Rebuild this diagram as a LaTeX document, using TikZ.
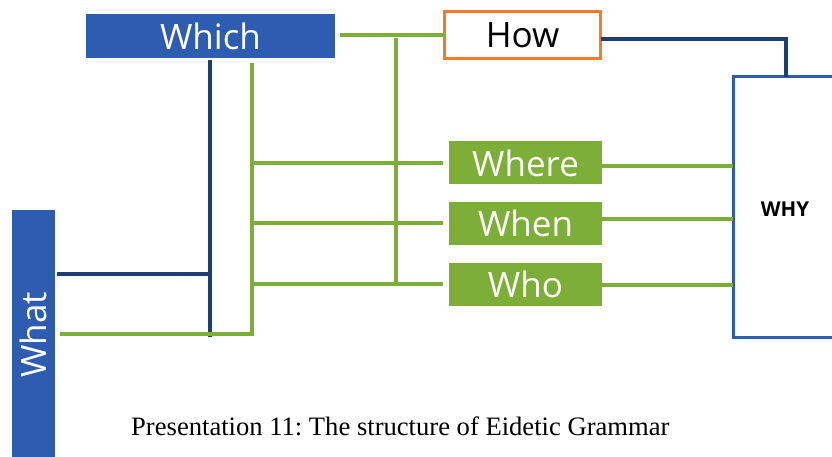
\documentclass[tikz,border=0pt]{standalone}
\usepackage{fontspec}
\setmainfont{Liberation Serif}
\newfontfamily\boxfont{Open Sans}
\definecolor{boxblue}{HTML}{2E5CB0}
\definecolor{navy}{HTML}{1F3E72}
\definecolor{lgreen}{HTML}{7DAE38}
\definecolor{orng}{HTML}{F47B2A}
\tikzset{
  lbl/.style={inner sep=0pt, outer sep=0pt, font=\boxfont\fontsize{35}{35}\selectfont, text=white},
  bluebox/.style={lbl, fill=boxblue},
  greenbox/.style={lbl, fill=lgreen, minimum width=153pt, minimum height=43pt},
  howbox/.style={lbl, draw=orng, line width=3.5pt, fill=white, text=black},
  whybox/.style={inner sep=0pt, outer sep=0pt, draw=boxblue, line width=3pt},
  navyline/.style={draw=navy, line width=4pt},
  greenline/.style={draw=lgreen, line width=4.5pt},
}
\begin{document}
\begin{tikzpicture}[x=1pt,y=-1pt]
\useasboundingbox (0,0) rectangle (832,457);
% WHY box (open to the right edge)
\node[whybox, minimum width=106pt, minimum height=260pt] (why) at (786,207) {};
\node[font=\boxfont\bfseries\fontsize{20.5}{20.5}\selectfont, inner sep=0pt] (whyt) at (785,209) {WHY};
% boxes
\node[bluebox, minimum width=249pt, minimum height=44pt] (which) at (210.5,36) {Which};
\node[howbox, minimum width=156pt, minimum height=47pt] (how) at (522.5,35) {How};
\node[greenbox] (where) at (525.5,163) {Where};
\node[greenbox] (when) at (525.5,223.5) {When};
\node[greenbox] (who) at (525.5,284.5) {Who};
\node[bluebox, minimum width=43pt, minimum height=250pt] (what) at (33,335) {\rotatebox{90}{What}};
% junction coordinates
\coordinate (n1) at (210,60);
\coordinate (n2) at (210,337);
\coordinate (w1) at (57,274);
\coordinate (g0) at (60,334);
\coordinate (g1) at (252,334);
\coordinate (g2) at (252,63);
\coordinate (t0) at (340,35);
\coordinate (v1) at (396,38);
\coordinate (v2) at (396,284);
\coordinate (h1) at (786,39);
% navy lines
\draw[navyline] (n1) -- (n2);
\draw[navyline] (w1) -- (w1 -| n1);
\draw[navyline] (how.east |- h1) -- (h1) -- (h1 |- why.north);
% green lines
\draw[greenline] (g0) -- (g1) -- (g2);
\draw[greenline] (t0) -- (how.west |- t0);
\draw[greenline] (v1) -- (v2);
\draw[greenline] (g2 |- 0,163) -- (443,163);
\draw[greenline] (g2 |- 0,223) -- (443,223);
\draw[greenline] (g2 |- 0,284) -- (443,284);
\draw[greenline] (where.east |- 0,166) -- (why.west |- 0,166);
\draw[greenline] (when.east |- 0,219) -- (why.west |- 0,219);
\draw[greenline] (who.east |- 0,285) -- (why.west |- 0,285);
% caption
\node[font=\fontsize{26.6}{26.6}\selectfont, inner sep=0pt, anchor=base west] (cap) at (131,435) {\frenchspacing Presentation 11: The structure of Eidetic Grammar};
\end{tikzpicture}
\end{document}
